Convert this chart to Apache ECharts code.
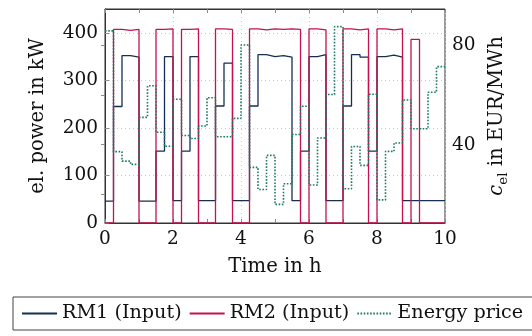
<!DOCTYPE html>
<html>
<head>
<meta charset="utf-8">
<script src="https://cdn.jsdelivr.net/npm/echarts@6/dist/echarts.min.js"></script>
<style>
  html, body { margin: 0; padding: 0; background: #fff; }
  #chart { width: 532px; height: 336px; }
</style>
</head>
<body>
<div id="chart"></div>
<script>
// step start times in h (15 min resolution), last entry closes the final step
const hours = [0, 0.25, 0.5, 0.75, 1, 1.25, 1.5, 1.75, 2, 2.25, 2.5, 2.75, 3, 3.25, 3.5, 3.75,
  4, 4.25, 4.5, 4.75, 5, 5.25, 5.5, 5.75, 6, 6.25, 6.5, 6.75, 7, 7.25, 7.5, 7.75,
  8, 8.25, 8.5, 8.75, 9, 9.25, 9.5, 9.75, 10];

// el. power in kW
const rm1 = [46, 245, 352, 349, 46, 46, 151, 350, 47, 151, 350, 47, 47, 246, 336, 47,
  47, 246, 354, 350, 352, 349, 47, 151, 350, 354, 47, 47, 246, 354, 349, 151,
  350, 353, 349, 47, 47, 47, 47, 47];
const rm2 = [0, 407, 405, 407, 0, 0, 407, 408, 0, 407, 408, 0, 0, 408, 407, 0,
  0, 408, 406, 408, 407, 408, 407, 0, 408, 406, 0, 0, 408, 406, 408, 0,
  408, 406, 408, 0, 386, 0, 0, 0];

// c_el in EUR/MWh
const price = [85.8, 37.2, 33.4, 32.1, 51.0, 63.7, 45.0, 39.4, 58.3, 43.7, 42.5, 47.5, 58.9, 43.2, 43.2, 50.6,
  80.1, 30.9, 22.0, 35.7, 16.0, 24.3, 44.1, 55.5, 23.8, 42.7, 60.2, 87.5, 22.3, 39.3, 31.7, 60.3,
  17.8, 37.3, 40.7, 58.0, 46.4, 46.4, 61.1, 71.4];

const xTicks = [0, 2, 4, 6, 8, 10];
const powerTicks = [0, 100, 200, 300, 400];
const priceTicks = [20, 40, 60, 80];
const priceLabels = [40, 80];

const FONT = "DejaVu Serif";
const FS = 18.5;
const FS_NAME = 19.6;
const FS_LEGEND = 19.2;
const C_RM1 = "#142f52";
const C_RM2 = "#c3124d";
const C_PRICE = "#1b7a68";
const AXIS = "#333";
const TICK = "#8a8a8a";
const GRID = "#c8c8c8";

// pad the last value so the step runs to t = 10
const steps = (vals) => hours.map((t, i) => [t, vals[Math.min(i, vals.length - 1)]]);

const chart = echarts.init(document.getElementById("chart"), null, { renderer: "canvas" });

const tickText = { fontFamily: FONT, fontSize: FS, color: "#111" };
const nameText = { fontFamily: FONT, fontSize: FS_NAME, color: "#111" };

chart.setOption({
  animation: false,
  backgroundColor: "#fff",
  textStyle: { fontFamily: FONT },
  grid: { left: 105, top: 9, width: 340, height: 214, show: true, borderColor: AXIS, borderWidth: 1, backgroundColor: "transparent" },
  legend: {
    left: 13, top: 297, width: 506,
    padding: [7, 10, 7, 8],
    borderColor: "#444", borderWidth: 1, borderRadius: 0,
    itemWidth: 35, itemHeight: 10, itemGap: 7,
    itemStyle: { opacity: 0 },
    textStyle: { fontFamily: FONT, fontSize: FS_LEGEND, color: "#111" },
    data: ["RM1 (Input)", "RM2 (Input)", "Energy price"],
  },
  xAxis: [
    {
      type: "value", min: 0, max: 10, interval: 2, position: "bottom",
      name: "Time in h", nameLocation: "middle", nameGap: 34, nameTextStyle: nameText,
      axisLine: { show: true, lineStyle: { color: AXIS } },
      axisTick: { show: true, inside: true, length: 4, lineStyle: { color: TICK } },
      minorTick: { show: true, splitNumber: 2, length: 4, lineStyle: { color: TICK } },
      axisLabel: { ...tickText, margin: 7, customValues: xTicks },
      splitLine: { show: true, lineStyle: { color: GRID, type: [1, 3] } },
    },
    {
      type: "value", min: 0, max: 10, interval: 2, position: "top",
      axisLine: { show: true, lineStyle: { color: AXIS } },
      axisTick: { show: true, inside: true, length: 4, lineStyle: { color: TICK } },
      minorTick: { show: true, splitNumber: 2, length: 4, lineStyle: { color: TICK } },
      axisLabel: { show: false },
      splitLine: { show: false },
    },
  ],
  yAxis: [
    {
      type: "value", min: 0, max: 450, interval: 100, position: "left",
      name: "el. power in kW", nameLocation: "middle", nameGap: 57, nameRotate: 90, nameTextStyle: nameText,
      axisLine: { show: true, lineStyle: { color: AXIS } },
      axisTick: { show: true, inside: true, length: 4, customValues: powerTicks, lineStyle: { color: TICK } },
      axisLabel: { ...tickText, margin: 7, customValues: powerTicks },
      splitLine: { show: true, lineStyle: { color: GRID, type: [1, 3] } },
    },
    {
      type: "value", min: 8.5, max: 94.6, position: "right",
      name: "{c|c}{sub|el}{t| in EUR/MWh}", nameLocation: "middle", nameGap: 42, nameRotate: 90,
      nameTextStyle: {
        ...nameText,
        rich: {
          c: { fontFamily: FONT, fontSize: FS_NAME, fontStyle: "italic", color: "#111", lineHeight: 22, verticalAlign: "top" },
          sub: { fontFamily: FONT, fontSize: 13.5, color: "#111", lineHeight: 32 },
          t: { fontFamily: FONT, fontSize: FS_NAME, color: "#111", lineHeight: 22, verticalAlign: "top" },
        },
      },
      axisLine: { show: true, lineStyle: { color: AXIS } },
      axisTick: { show: true, inside: true, length: 4, customValues: priceTicks, lineStyle: { color: TICK } },
      axisLabel: { ...tickText, margin: 7, customValues: priceLabels },
      splitLine: { show: false },
    },
  ],
  series: [
    {
      name: "RM1 (Input)", type: "line", step: "end", xAxisIndex: 0, yAxisIndex: 0,
      data: steps(rm1), symbol: "none", itemStyle: { color: C_RM1 },
      lineStyle: { color: C_RM1, width: 1.3 },
    },
    {
      name: "RM2 (Input)", type: "line", step: "end", xAxisIndex: 0, yAxisIndex: 0,
      data: steps(rm2), symbol: "none", itemStyle: { color: C_RM2 },
      lineStyle: { color: C_RM2, width: 1.3 },
    },
    {
      name: "Energy price", type: "line", step: "end", xAxisIndex: 0, yAxisIndex: 1,
      data: steps(price), symbol: "none", itemStyle: { color: C_PRICE },
      lineStyle: { color: C_PRICE, width: 1.6, type: [1.6, 1.6] },
    },
  ],
});
</script>
</body>
</html>
